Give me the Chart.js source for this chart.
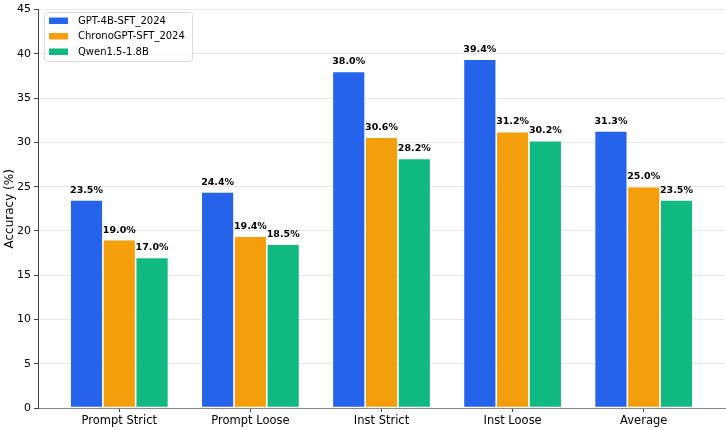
<!DOCTYPE html>
<html>
<head>
<meta charset="utf-8">
<script src="https://cdn.jsdelivr.net/npm/chart.js@4.4.1/dist/chart.umd.min.js"></script>
<style>
  html, body { margin: 0; padding: 0; background: #fff; }
  #wrap { width: 726px; height: 430px; }
</style>
</head>
<body>
<div id="wrap"><canvas id="accChart" width="726" height="430"></canvas></div>
<script>
// data
const categories = ["Prompt Strict", "Prompt Loose", "Inst Strict", "Inst Loose", "Average"];
const seriesNames = ["GPT-4B-SFT_2024", "ChronoGPT-SFT_2024", "Qwen1.5-1.8B"];
const gptValues = [23.5, 24.4, 38.0, 39.4, 31.3];
const chronoValues = [19.0, 19.4, 30.6, 31.2, 25.0];
const qwenValues = [17.0, 18.5, 28.2, 30.2, 23.5];
const yTicks = [0, 5, 10, 15, 20, 25, 30, 35, 40, 45];

const colors = ["#2563EB", "#F59E0B", "#10B981"];
const FONT = "'DejaVu Sans', sans-serif";

function toPoints(vals) {
  return vals.map((v, i) => ({ x: i, y: v }));
}

//! value labels above each bar
const valueLabels = {
  id: "valueLabels",
  afterDatasetsDraw(chart) {
    const ctx = chart.ctx;
    ctx.save();
    ctx.font = "bold 9.5px " + FONT;
    ctx.fillStyle = "#000";
    ctx.textAlign = "center";
    ctx.textBaseline = "bottom";
    chart.data.datasets.forEach((ds, di) => {
      chart.getDatasetMeta(di).data.forEach((bar, i) => {
        ctx.fillText(ds.data[i].y.toFixed(1) + "%", bar.x, bar.y - 5);
      });
    });
    ctx.restore();
  },
};

//! legend box in the upper left of the plot
const innerLegend = {
  id: "innerLegend",
  afterDraw(chart) {
    const ctx = chart.ctx;
    const x0 = 44, y0 = 12, w = 148, h = 49;
    ctx.save();
    ctx.fillStyle = "rgba(255,255,255,0.85)";
    ctx.strokeStyle = "#d9d9d9";
    ctx.lineWidth = 1;
    ctx.beginPath();
    ctx.roundRect(x0 + 0.5, y0 + 0.5, w, h, 3);
    ctx.fill();
    ctx.stroke();
    ctx.font = "10px " + FONT;
    ctx.textBaseline = "middle";
    chart.data.datasets.forEach((ds, i) => {
      const cy = y0 + 8.5 + i * 15.5;
      ctx.fillStyle = ds.backgroundColor;
      ctx.fillRect(x0 + 5, cy - 3, 19, 6.5);
      ctx.fillStyle = "#000";
      ctx.fillText(ds.label, x0 + 34, cy + 0.5);
    });
    ctx.restore();
  },
};

const ctx = document.getElementById("accChart").getContext("2d");
const accChart = new Chart(ctx, {
  type: "bar",
  data: {
    datasets: [
      { label: seriesNames[0], data: toPoints(gptValues), backgroundColor: colors[0] },
      { label: seriesNames[1], data: toPoints(chronoValues), backgroundColor: colors[1] },
      { label: seriesNames[2], data: toPoints(qwenValues), backgroundColor: colors[2] },
    ],
  },
  options: {
    responsive: false,
    animation: false,
    layout: { padding: { top: 8, right: 1, left: 3, bottom: 0 } },
    datasets: {
      bar: {
        borderColor: "#ffffff",
        borderWidth: 0.8,
        borderSkipped: false,
        categoryPercentage: 0.75,
        barPercentage: 1.0,
      },
    },
    scales: {
      x: {
        type: "linear",
        min: -0.62,
        max: 4.62,
        offset: false,
        afterBuildTicks(scale) {
          scale.ticks = categories.map((c, i) => ({ value: i }));
        },
        afterFit(scale) { scale.height = 22; },
        ticks: {
          autoSkip: false,
          maxRotation: 0,
          padding: 2,
          color: "#000",
          font: { family: FONT, size: 11.5 },
          callback: (v) => categories[v],
        },
        grid: { display: true, offset: false, drawOnChartArea: false, tickLength: 4, tickColor: "#444", tickWidth: 1 },
        border: { display: true, color: "#888", width: 1 },
      },
      y: {
        min: 0,
        max: 45,
        afterBuildTicks(scale) {
          scale.ticks = yTicks.map((v) => ({ value: v }));
        },
        afterFit(scale) { scale.width = 35; },
        title: {
          display: true,
          text: "Accuracy (%)",
          color: "#000",
          font: { family: FONT, size: 12 },
          padding: { top: 0, bottom: 0 },
        },
        ticks: {
          padding: 3,
          color: "#000",
          font: { family: FONT, size: 11 },
        },
        grid: { color: "#e6e6e6", lineWidth: 1, tickLength: 4, tickColor: "#444" },
        border: { display: true, color: "#444", width: 1 },
      },
    },
    plugins: {
      legend: { display: false },
      tooltip: { enabled: false },
    },
  },
  plugins: [valueLabels, innerLegend],
});
</script>
</body>
</html>
